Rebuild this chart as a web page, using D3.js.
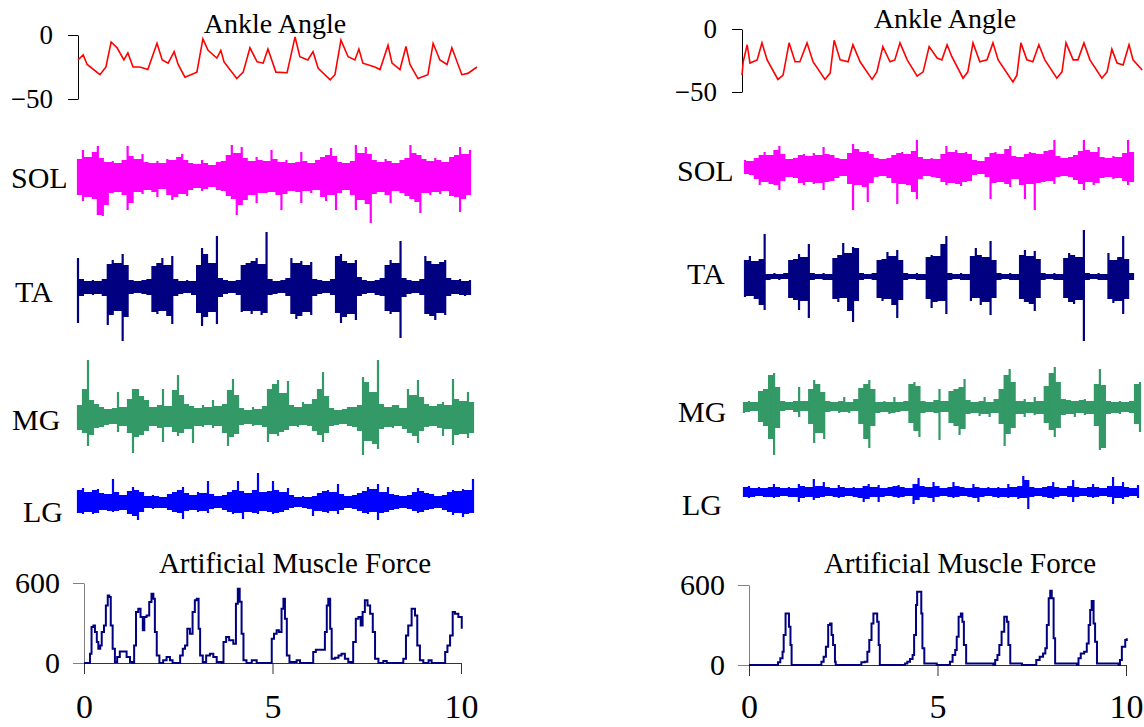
<!DOCTYPE html>
<meta charset="utf-8">
<style>
body { margin: 0; background: #fff; }
svg text { font-family: "Liberation Serif", "Times New Roman", serif; fill: #000; }
</style>
<body>
<script src="https://d3js.org/d3.v7.min.js"></script>
<script>
// ankle angle (deg) vs time (s)
var ankleTimeL = [0,0.13,0.23,0.55,0.70,0.83,0.98,1.15,1.25,1.38,1.55,1.75,1.98,2.11,2.26,2.41,2.51,2.68,2.98,3.13,3.26,3.48,3.58,3.66,3.98,4.14,4.31,4.49,4.64,4.76,4.96,5.24,5.44,5.56,5.76,5.89,6.02,6.32,6.44,6.59,6.77,6.94,7.04,7.14,7.44,7.57,7.77,7.87,8.07,8.22,8.32,8.52,8.77,8.90,9.07,9.25,9.37,9.62,9.77,10.0];
var ankleValL = [-19.5,-15.6,-23,-31,-25,-5.5,-10,-19.5,-14,-25,-25,-27,-6.5,-19.5,-22,-13,-23,-33,-29,-3,-12,-18,-12,-21,-34,-29,-10,-21,-22,-11,-29,-29.5,-1.5,-17,-19.5,-13,-26,-35,-31,-4,-17,-19.5,-11,-22,-25,-27,-8,-22,-27,-9,-23,-34,-31,-6.5,-19.5,-23,-10,-31,-30,-25];
var ankleTimeR = [0,0.03,0.13,0.20,0.38,0.50,0.63,0.90,1.03,1.18,1.33,1.45,1.63,1.78,2.08,2.21,2.31,2.46,2.66,2.78,2.96,3.26,3.38,3.53,3.71,3.83,3.96,4.14,4.39,4.54,4.69,4.89,5.01,5.14,5.26,5.54,5.66,5.79,5.96,6.14,6.29,6.42,6.79,6.89,6.99,7.14,7.29,7.44,7.59,7.89,8.02,8.12,8.30,8.42,8.57,8.72,9.02,9.15,9.27,9.40,9.55,9.70,9.80,10.03];
var ankleValR = [-36.6,-26,-12.5,-27,-24.5,-11,-24.5,-40,-36.6,-11,-26,-26,-11,-26,-40,-35,-9,-24.5,-26,-12.5,-26,-40,-34,-14,-26,-24.5,-11,-24.5,-37.4,-34,-14,-23,-24.5,-12.5,-22,-39,-34,-11,-26,-24.5,-11,-24.5,-42,-36.6,-11,-24.5,-26,-12.5,-24.5,-39,-34,-11,-24.5,-24.5,-11,-24.5,-39,-34,-16,-27,-28.5,-12.5,-24.5,-32.5];

// artificial muscle force (N) vs time (s)
var forceTimeL = [0,0.14,0.16,0.20,0.25,0.29,0.34,0.38,0.43,0.47,0.53,0.58,0.63,0.67,0.71,0.76,0.82,0.88,0.95,1.06,1.13,1.22,1.29,1.33,1.38,1.44,1.50,1.56,1.60,1.66,1.73,1.79,1.84,1.88,1.93,2.00,2.10,2.19,2.28,2.35,2.50,2.55,2.62,2.68,2.74,2.81,2.88,2.94,2.99,3.04,3.08,3.15,3.24,3.34,3.43,3.52,3.65,3.70,3.77,3.85,3.96,4.03,4.08,4.13,4.18,4.23,4.31,4.45,4.58,4.93,4.98,5.04,5.11,5.17,5.24,5.29,5.33,5.38,5.45,5.64,5.73,6.04,6.08,6.15,6.35,6.39,6.44,6.48,6.53,6.57,6.66,6.75,6.83,6.92,7.01,7.10,7.14,7.21,7.28,7.34,7.39,7.45,7.52,7.59,7.66,7.72,7.81,7.94,8.03,8.38,8.47,8.54,8.60,8.69,8.78,8.84,8.91,9.00,9.14,9.22,9.53,9.58,9.64,9.71,9.78,9.84,9.93,10.02];
var forceValL = [0,0,70,270,282,232,157,107,132,232,282,432,507,495,282,107,7,45,87,87,45,7,0,132,382,407,345,245,345,357,457,520,482,232,57,0,20,45,20,0,0,57,107,132,257,220,382,470,482,257,57,7,57,70,45,7,0,157,195,170,145,445,557,460,220,20,0,20,0,0,182,220,245,232,407,482,332,57,7,20,0,0,82,100,100,232,432,482,257,32,40,57,70,32,7,0,157,332,345,282,382,470,432,370,232,32,0,15,0,0,32,207,282,407,357,132,20,0,20,0,0,82,132,207,382,370,345,257];
var forceTimeR = [0,0.73,0.77,0.83,0.89,0.92,0.97,1.03,1.06,1.10,1.13,1.88,1.92,1.98,2.04,2.10,2.15,2.19,2.23,2.28,2.30,2.94,2.98,3.07,3.14,3.19,3.25,3.30,3.37,3.40,3.44,3.47,4.09,4.14,4.20,4.27,4.34,4.38,4.43,4.46,4.53,4.57,4.60,4.65,4.93,4.98,5.29,5.33,5.40,5.47,5.51,5.56,5.62,5.66,5.70,5.76,6.48,6.53,6.59,6.64,6.70,6.77,6.84,6.88,6.93,7.17,7.24,7.55,7.62,7.71,7.80,7.86,7.90,7.95,7.99,8.03,8.08,8.12,8.70,8.74,8.80,8.89,8.96,9.01,9.05,9.09,9.14,9.18,9.23,9.80,9.84,9.89,9.98,10.02];
var forceValR = [0,0,20,50,100,225,387,387,287,150,0,0,25,62,137,300,312,225,150,25,0,0,20,25,100,187,312,387,387,325,150,0,0,12,25,45,75,225,450,550,550,387,125,12,12,0,0,25,75,112,212,362,387,325,150,12,0,37,75,150,250,362,325,150,12,12,0,0,37,62,87,125,300,500,557,500,200,12,0,50,87,100,162,300,412,480,312,175,12,0,37,137,187,200];

// EMG, 80 bins over 10 s: positive and negative peak of each bin (a.u.)
var solHiL = [16,25,18,23,29,17,13,14,12,15, 29,19,16,21,13,12,14,12,16,15, 18,21,15,12,11,15,12,10,13,14, 20,30,22,28,17,14,18,15,14,25, 16,13,15,12,13,23,14,12,15,18, 20,27,19,13,12,14,30,22,28,21, 15,13,16,14,12,15,17,30,22,20, 16,14,17,15,13,18,20,28,21,25];
var solLoL = [-20,-26,-22,-24,-40,-41,-30,-18,-17,-20, -35,-28,-17,-19,-15,-17,-22,-14,-20,-25, -22,-19,-21,-15,-13,-16,-14,-12,-15,-16, -21,-24,-40,-30,-25,-20,-28,-18,-18,-17, -20,-35,-19,-16,-17,-28,-16,-18,-15,-22, -26,-20,-35,-18,-15,-20,-35,-25,-29,-48, -19,-17,-20,-28,-16,-18,-21,-24,-27,-38, -18,-20,-17,-19,-16,-21,-22,-37,-24,-20];
var taHiL = [29,8,6,7,6,8,23,27,24,33, 22,7,6,7,8,21,24,29,22,31, 8,6,7,6,22,39,33,24,51,9, 7,6,7,22,24,26,29,23,55,8, 6,7,9,29,24,26,22,25,8,7, 6,8,31,33,26,24,27,10,7,6, 7,9,22,27,24,46,9,7,6,8, 31,26,23,25,27,9,7,8,6,7];
var taLoL = [-36,-9,-7,-8,-7,-9,-38,-28,-24,-54, -30,-7,-6,-7,-8,-25,-27,-24,-29,-37, -9,-7,-6,-8,-26,-39,-30,-25,-37,-10, -7,-6,-8,-25,-24,-27,-24,-28,-26,-8, -7,-6,-9,-27,-32,-29,-25,-28,-9,-7, -6,-8,-26,-36,-30,-27,-33,-9,-7,-6, -8,-9,-24,-27,-25,-51,-10,-7,-6,-8, -27,-29,-33,-26,-28,-9,-7,-8,-9,-8];
var mgHiL = [12,28,57,17,13,10,8,9,25,10, 18,28,28,21,17,10,12,28,11,27, 42,22,13,11,9,12,10,17,11,13, 27,38,22,9,7,10,8,11,28,33, 37,24,36,12,10,15,13,18,28,45, 21,9,7,8,10,10,12,40,35,25, 57,13,10,12,12,9,28,22,37,20, 13,11,13,15,12,38,18,16,25,15];
var mgLoL = [-13,-16,-29,-18,-11,-10,-8,-7,-15,-9, -16,-36,-20,-18,-14,-9,-11,-25,-10,-15, -19,-16,-12,-26,-9,-10,-8,-11,-9,-16, -29,-20,-17,-8,-7,-9,-8,-10,-25,-17, -19,-15,-13,-9,-10,-8,-9,-14,-18,-25, -16,-9,-8,-7,-9,-10,-14,-38,-24,-27, -32,-12,-10,-11,-9,-12,-16,-19,-26,-14, -10,-9,-11,-19,-12,-28,-18,-17,-21,-16];
var lgHiL = [12,14,10,12,13,9,8,23,10,7, 11,15,12,10,6,7,6,5,8,10, 12,15,9,7,10,9,21,8,6,7, 10,12,21,11,9,12,29,10,11,21, 12,10,14,7,5,6,5,6,9,11, 12,10,18,8,6,7,9,11,15,13, 18,10,15,8,7,6,7,10,14,11, 9,8,6,7,10,12,11,13,12,23];
var lgLoL = [-11,-12,-10,-12,-11,-8,-9,-10,-9,-8, -12,-14,-18,-10,-6,-7,-6,-6,-8,-10, -11,-17,-9,-8,-10,-9,-11,-7,-6,-8, -10,-12,-11,-17,-10,-11,-12,-9,-10,-12, -11,-10,-8,-6,-5,-6,-7,-14,-9,-10, -11,-9,-12,-8,-6,-7,-9,-11,-12,-10, -18,-11,-10,-8,-7,-6,-7,-9,-11,-10, -8,-7,-6,-8,-10,-13,-11,-15,-12,-11];

var solHiR = [7,6,9,12,15,12,17,21,13,8, 9,12,13,11,14,12,20,13,12,9, 8,14,23,18,15,16,13,9,8,9, 12,14,15,13,16,27,10,8,9,8, 13,21,15,17,14,15,13,7,6,10, 14,15,13,18,21,11,10,13,15,14, 13,16,17,27,11,9,10,12,16,27, 17,15,20,10,9,11,10,14,27,15];
var solLoR = [-7,-8,-12,-18,-15,-17,-18,-23,-14,-10, -11,-16,-18,-15,-17,-16,-23,-15,-14,-11, -9,-17,-43,-18,-20,-35,-16,-10,-9,-11, -16,-37,-17,-18,-25,-32,-12,-9,-10,-11, -15,-18,-16,-17,-19,-15,-14,-8,-7,-10, -32,-16,-15,-17,-20,-12,-18,-32,-17,-43, -16,-15,-14,-17,-10,-9,-10,-13,-17,-23, -15,-18,-16,-11,-10,-12,-11,-14,-18,-15];
var taHiR = [17,21,16,18,43,3,4,3,4,17, 18,23,20,33,4,3,4,3,19,22, 34,24,30,29,4,3,4,17,18,25, 21,27,17,4,3,4,3,20,22,21, 33,41,4,3,4,3,21,29,22,20, 36,17,4,3,4,3,22,27,21,26, 18,4,3,4,3,19,24,22,20,47, 4,3,4,3,24,17,20,41,18,4];
var taLoR = [-20,-19,-22,-28,-33,-3,-2,-3,-2,-21, -23,-33,-24,-41,-3,-2,-3,-3,-22,-25, -21,-34,-45,-24,-3,-2,-3,-21,-24,-22, -28,-41,-23,-3,-2,-3,-3,-22,-31,-25, -24,-37,-3,-2,-3,-3,-24,-21,-28,-25, -38,-21,-3,-2,-3,-3,-22,-25,-27,-34, -21,-3,-2,-3,-3,-21,-25,-27,-23,-64, -3,-2,-3,-3,-22,-26,-24,-37,-22,-3];
var mgHiR = [4,5,4,15,17,31,33,19,5,4, 5,19,5,17,26,22,14,5,4,5, 9,4,7,18,22,26,17,4,5,4, 9,4,5,22,24,20,5,4,6,17, 5,15,17,19,27,6,4,5,9,4, 7,17,31,37,24,5,7,4,9,5, 20,33,39,24,7,6,5,6,7,5, 22,37,21,5,4,5,4,5,22,24];
var mgLoR = [-7,-6,-5,-16,-20,-33,-49,-22,-5,-4, -6,-11,-5,-18,-37,-27,-33,-6,-5,-7, -6,-7,-5,-18,-33,-42,-20,-7,-6,-8, -7,-6,-5,-17,-25,-31,-7,-6,-7,-34, -6,-17,-20,-29,-23,-8,-7,-10,-8,-11, -7,-18,-40,-28,-22,-8,-11,-7,-9,-8, -17,-24,-31,-22,-9,-8,-11,-7,-9,-8, -20,-44,-42,-8,-7,-8,-6,-7,-18,-26];
var lgHiR = [5,6,4,5,4,5,8,5,4,5, 4,8,6,5,13,6,10,5,4,7, 5,4,5,4,6,8,5,7,4,5, 6,7,5,4,8,14,6,5,10,6, 4,5,10,6,5,4,8,5,4,5, 4,5,4,8,5,6,16,12,5,4, 5,6,10,5,4,6,12,5,4,5, 8,5,4,6,15,6,10,5,4,7];
var lgLoR = [-5,-6,-5,-4,-5,-5,-6,-5,-4,-5, -5,-10,-6,-5,-8,-6,-5,-4,-5,-6, -5,-4,-5,-6,-10,-7,-5,-10,-5,-4, -5,-6,-5,-4,-12,-8,-5,-6,-10,-5, -4,-5,-6,-5,-4,-5,-6,-10,-5,-4, -5,-6,-5,-6,-5,-7,-6,-17,-5,-4, -5,-6,-7,-5,-4,-5,-10,-5,-4,-5, -6,-5,-4,-5,-12,-6,-7,-5,-4,-6];

var muscles = ["SOL", "TA", "MG", "LG"];
var colors = {SOL: "#ff00ff", TA: "#000080", MG: "#339966", LG: "#0000ff"};

var width = 1144,
    height = 727;

var svg = d3.select("body").append("svg")
    .attr("width", width)
    .attr("height", height);

// two columns, each one stack of separate little charts
var panels = [
  {ankleT: ankleTimeL, ankleV: ankleValL, forceT: forceTimeL, forceV: forceValL,
   emg: {SOL: [solHiL, solLoL], TA: [taHiL, taLoL], MG: [mgHiL, mgLoL], LG: [lgHiL, lgLoL]},
   ankle: {x0: 78, x1: 477, y0: 35, y50: 99, titleX: 275, titleY: 33},
   rows: {SOL: [78, 470, 175, 11, 188], TA: [78, 470, 287, 15, 302], MG: [78, 473, 417, 12, 430], LG: [78, 473, 502, 23, 522]},
   force: {x0: 84, x1: 461, y0: 663, y600: 583, titleX: 295, titleY: 573}},
  {ankleT: ankleTimeR, ankleV: ankleValR, forceT: forceTimeR, forceV: forceValR,
   emg: {SOL: [solHiR, solLoR], TA: [taHiR, taLoR], MG: [mgHiR, mgLoR], LG: [lgHiR, lgLoR]},
   ankle: {x0: 742, x1: 1141, y0: 29, y50: 92, titleX: 945, titleY: 28},
   rows: {SOL: [745, 1133, 167, 677, 181], TA: [745, 1133, 277, 687, 284], MG: [744, 1140, 406, 678, 422], LG: [744, 1138, 492, 682, 515]},
   force: {x0: 749, x1: 1126, y0: 665, y600: 585, titleX: 960, titleY: 573}}
];

function styleAxis(g, size, color) {
  g.attr("font-size", null).attr("font-family", null);
  g.selectAll("text").style("font-size", size + "px");
  g.selectAll("path, line").attr("stroke", color);
}

panels.forEach(function(p) {
  // ankle angle
  var a = p.ankle;
  var xa = d3.scaleLinear().domain([0, 10]).range([a.x0, a.x1]);
  var ya = d3.scaleLinear().domain([-50, 0]).range([a.y50, a.y0]);

  svg.append("text")
      .attr("x", a.titleX).attr("y", a.titleY)
      .attr("text-anchor", "middle")
      .style("font-size", "28px")
      .text("Ankle Angle");

  svg.append("g")
      .attr("transform", "translate(" + a.x0 + ",0)")
      .call(d3.axisLeft(ya).tickValues([0, -50]).tickSize(10).tickSizeOuter(0).tickPadding(15))
      .call(styleAxis, 27, "#000");

  svg.append("path")
      .datum(d3.zip(p.ankleT, p.ankleV))
      .attr("fill", "none")
      .attr("stroke", "#ff0000")
      .attr("stroke-width", 1.6)
      .attr("d", d3.line().x(function(d) { return xa(d[0]); }).y(function(d) { return ya(d[1]); }));

  // EMG traces: solid band where neighbouring bins overlap, a thin stroke for each bin's full swing
  muscles.forEach(function(m) {
    var r = p.rows[m],
        hi = p.emg[m][0],
        lo = p.emg[m][1];
    var x = d3.scaleLinear().domain([0, hi.length - 1]).range([r[0], r[1]]);
    var y = d3.scaleLinear().domain([-50, 50]).range([r[2] + 50, r[2] - 50]);
    var g = svg.append("g").attr("fill", colors[m]).attr("stroke", colors[m]);

    var core = d3.range(hi.length - 1).map(function(i) {
      return [i, Math.min(hi[i], hi[i + 1]), Math.max(lo[i], lo[i + 1])];
    });
    g.selectAll("rect")
      .data(core)
      .join("rect")
        .attr("stroke", "none")
        .attr("x", function(d) { return x(d[0]); })
        .attr("width", function(d) { return x(d[0] + 1) - x(d[0]); })
        .attr("y", function(d) { return y(d[1]); })
        .attr("height", function(d) { return y(d[2]) - y(d[1]); });

    g.selectAll("line")
      .data(hi)
      .join("line")
        .attr("stroke-width", 2.2)
        .attr("x1", function(d, i) { return x(i); })
        .attr("x2", function(d, i) { return x(i); })
        .attr("y1", function(d) { return y(d); })
        .attr("y2", function(d, i) { return y(lo[i]); });

    svg.append("text")
        .attr("x", r[3]).attr("y", r[4])
        .style("font-size", "30px")
        .text(m);
  });

  // artificial muscle force
  var f = p.force;
  var xf = d3.scaleLinear().domain([0, 10]).range([f.x0, f.x1]);
  var yf = d3.scaleLinear().domain([0, 600]).range([f.y0, f.y600]);

  svg.append("text")
      .attr("x", f.titleX).attr("y", f.titleY)
      .attr("text-anchor", "middle")
      .style("font-size", "29px")
      .text("Artificial Muscle Force");

  svg.append("g")
      .attr("transform", "translate(" + f.x0 + ",0)")
      .call(d3.axisLeft(yf).tickValues([0, 600]).tickSize(11).tickSizeOuter(0).tickPadding(13))
      .call(styleAxis, 30, "#808080");

  svg.append("g")
      .attr("transform", "translate(0," + f.y0 + ")")
      .call(d3.axisBottom(xf).tickValues([0, 5, 10]).tickSize(11).tickSizeOuter(0).tickPadding(718 - f.y0 - 35))
      .call(styleAxis, 34, "#333");

  svg.append("path")
      .datum(d3.zip(p.forceT, p.forceV))
      .attr("fill", "none")
      .attr("stroke", "#000080")
      .attr("stroke-width", 2)
      .attr("d", d3.line().curve(d3.curveStepAfter)
          .x(function(d) { return xf(d[0]); }).y(function(d) { return yf(d[1]); }));
});
</script>
</body>
